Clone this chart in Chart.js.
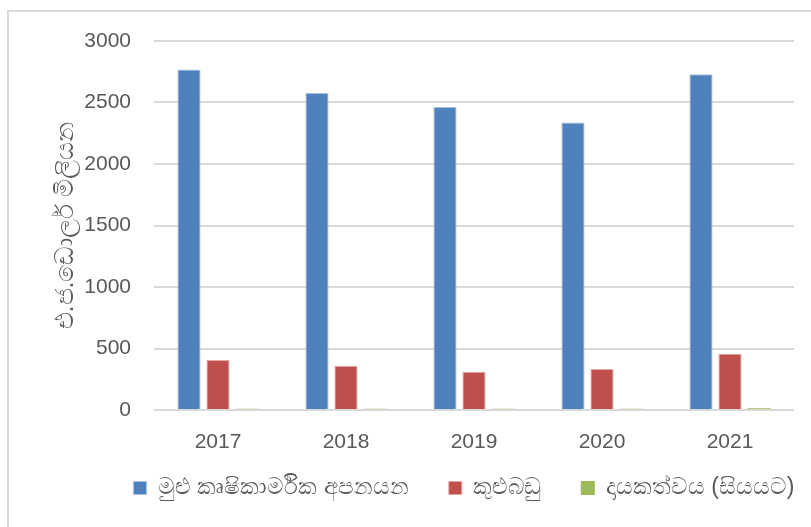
<!DOCTYPE html>
<html lang="si">
<head>
    <meta charset="UTF-8">
    <title>කෘෂිකාර්මික අපනයන</title>
    <script src="https://cdn.jsdelivr.net/npm/chart.js@4.4.1/dist/chart.umd.min.js"></script>
    <style>
        body{
            margin: 0;
            background: #fff;
        }
        .frame{
            position: absolute;
            left: 7px;
            top: 10px;
            width: 830px;
            height: 540px;
            border: 2px solid #d9d9d9;
        }
        #chart{
            position: absolute;
            left: 0;
            top: 0;
        }
    </style>
</head>
<body>
    <div class="frame"></div>
    <canvas id="chart" width="811" height="527"></canvas>

    <script>
        // data
        const years = ['2017', '2018', '2019', '2020', '2021'];
        const totalExports = [2769, 2577, 2463, 2337, 2730];
        const spices = [407, 360, 311, 333, 458];
        const contribution = [13, 13, 13, 13, 17];

        const seriesNames = ['මුළු කෘෂිකාර්මික අපනයන', 'කුළුබඩු', 'දායකත්වය (සියයට)'];
        const yTitle = 'එ.ජ.ඩොලර් මිලියන';

        const textColor = '#595959';
        const gridColor = '#d9d9d9';
        const fontFamily = "'Liberation Sans', Arial, sans-serif";

        // legend items are spread wide and sit right of centre, move the box after layout
        const legendShift = {
            id: 'legendShift',
            afterLayout: function(chart){
                const lg = chart.legend;
                lg.left += 67;
                lg.right += 67;
                lg.top = 428.5 + 8;
                lg.bottom = chart.height;
                lg.height = lg.bottom - lg.top;
            }
        };

        var ctx = document.getElementById('chart').getContext('2d');
        var chart = new Chart(ctx, {
            type: 'bar',
            data: {
                labels: years,
                datasets: [
                    {
                        label: seriesNames[0],
                        data: totalExports,
                        backgroundColor: '#4f81bd',
                        borderColor: '#a9c0de',
                        borderWidth: 1
                    },
                    {
                        label: seriesNames[1],
                        data: spices,
                        backgroundColor: '#c0504d',
                        borderColor: '#e6a9a7',
                        borderWidth: 1
                    },
                    {
                        label: seriesNames[2],
                        data: contribution,
                        backgroundColor: '#9bbb59',
                        borderColor: '#9bbb59',
                        borderWidth: 1
                    }
                ]
            },
            plugins: [legendShift],
            options: {
                responsive: false,
                animation: false,
                categoryPercentage: 0.68,
                barPercentage: 0.8,
                layout: {
                    padding: {left: 0, right: 17, top: 41, bottom: 15}
                },
                plugins: {
                    tooltip: {enabled: false},
                    legend: {
                        position: 'bottom',
                        maxHeight: 44,
                        labels: {
                            color: textColor,
                            font: {family: fontFamily, size: 23},
                            boxWidth: 13,
                            boxHeight: 13,
                            padding: 40
                        }
                    }
                },
                scales: {
                    x: {
                        grid: {display: false},
                        border: {display: false},
                        ticks: {
                            color: textColor,
                            font: {family: fontFamily, size: 21},
                            padding: 12
                        },
                        afterFit: function(scale){ scale.height = 58; }
                    },
                    y: {
                        min: 0,
                        max: 3000,
                        grid: {color: gridColor, lineWidth: 2, drawTicks: false},
                        border: {display: false},
                        ticks: {
                            stepSize: 500,
                            color: textColor,
                            font: {family: fontFamily, size: 21},
                            padding: 23,
                            callback: function(v){ return String(v); }
                        },
                        title: {
                            display: true,
                            text: yTitle,
                            color: textColor,
                            font: {family: fontFamily, size: 25},
                            padding: {top: 51, bottom: 0}
                        },
                        afterFit: function(scale){ scale.width = 154; }
                    }
                }
            }
        });
    </script>
</body>
</html>
